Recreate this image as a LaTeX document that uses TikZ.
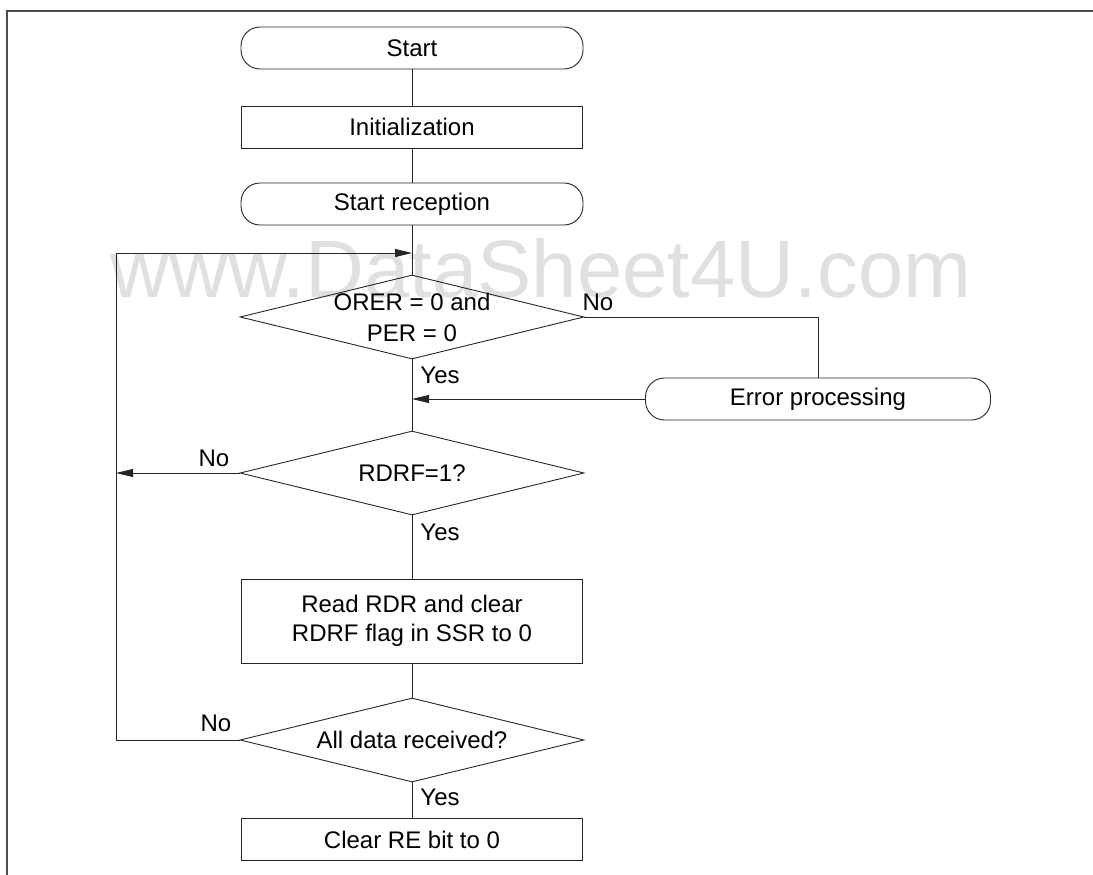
\documentclass[tikz,border=0pt]{standalone}
\usepackage{fontspec}
\setmainfont{Liberation Sans}
\usetikzlibrary{arrows.meta,shapes.geometric}
\begin{document}
\begin{tikzpicture}[x=1pt,y=-1pt,
  every node/.style={font=\fontsize{24}{31}\selectfont},
  conn/.style={line width=0.9pt, draw=black!85},
  arr/.style={conn, -{Triangle[length=17pt,width=8pt]}},
  term/.style={conn, rectangle, rounded corners=19pt, minimum width=342pt, minimum height=42pt, inner sep=0pt},
  proc/.style={conn, rectangle, minimum width=341pt, minimum height=42pt, inner sep=0pt, align=center},
  dec/.style={conn, diamond, minimum width=344pt, minimum height=84pt, inner sep=0pt, aspect=4.1},
  dtext/.style={inner sep=0pt, align=center},
  lbl/.style={inner sep=0pt},
  frame/.style={line width=1.6pt, draw=black!70},
  wmark/.style={font=\fontsize{81.5}{82}\selectfont, text=black!12, inner sep=0pt, anchor=base}
]
\useasboundingbox (0,0) rectangle (1093,875);
% frame
\coordinate (fb) at (7,875);
\coordinate (ftl) at (7,11);
\coordinate (ftr) at (1093,11);
\draw[frame] (fb) -- (ftl) -- (ftr);
% watermark
\node[wmark] (wm) at (541,297) {www.DataSheet4U.com};

% nodes
\node[term] (start) at (412,48) {Start};
\node[proc] (init) at (412,127) {Initialization};
\node[term] (sr) at (412,204) {Start reception};
\node[dec] (d1) at (412,317) {};
\node[dtext] (d1t) at (d1.center) {ORER = 0 and\\PER = 0};
\node[term, minimum width=345pt] (ep) at (818,399) {Error processing};
\node[dec] (d2) at (412,473) {};
\node[dtext] (d2t) at (d2.center) {RDRF=1?};
\node[proc, minimum height=84pt] (rdr) at (412,621) {Read RDR and clear\\[-2pt]RDRF flag in SSR to 0};
\node[dec] (d3) at (412,740) {};
\node[dtext] (d3t) at (d3.center) {All data received?};
\node[proc] (clr) at (412,839.5) {Clear RE bit to 0};

% labels
\node[lbl] (no1) at (598,302) {No};
\node[lbl] (yes1) at (440,375) {Yes};
\node[lbl] (no2) at (214,458) {No};
\node[lbl] (yes2) at (440,532) {Yes};
\node[lbl] (no3) at (216,723) {No};
\node[lbl] (yes3) at (440,797) {Yes};

% helper coordinates
\coordinate (m1) at (412,253);
\coordinate (lt) at (116,253);
\coordinate (m2) at (412,399);
\coordinate (ln) at (116,473);

% connectors
\draw[conn] (start) -- (init);
\draw[conn] (init) -- (sr);
\draw[conn] (sr) -- (d1);
\draw[conn] (d1) -- (d2);
\draw[conn] (d2) -- (rdr);
\draw[conn] (rdr) -- (d3);
\draw[conn] (d3) -- (clr);
\draw[conn] (d1.east) -| (ep.north);
\draw[arr] (ep.west) -- (m2);
\draw[arr] (d2.west) -- (ln);
\draw[arr] (d3.west) -| (lt) -- (m1);
\end{tikzpicture}
\end{document}
